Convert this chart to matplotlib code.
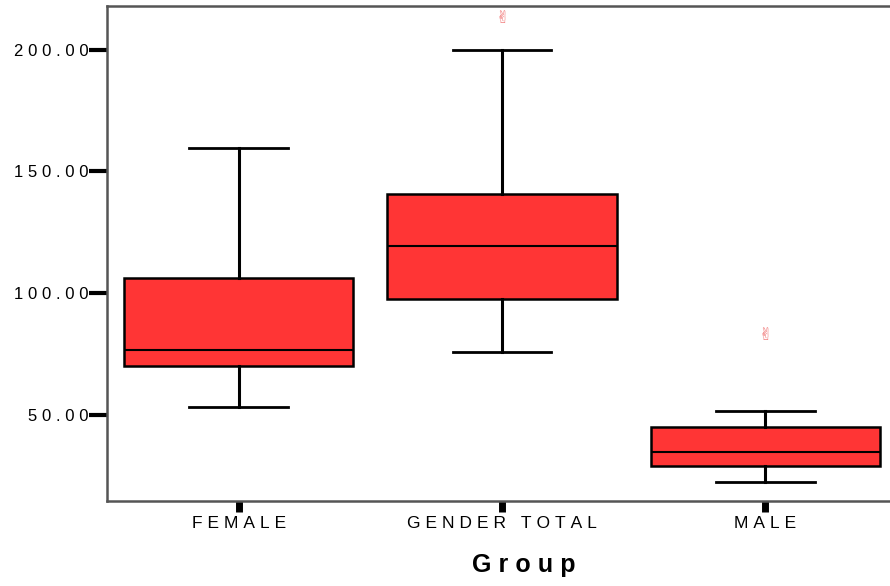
import matplotlib.pyplot as plt

# box statistics
groups = ["FEMALE", "GENDER TOTAL", "MALE"]
whislo = [53.3, 75.9, 22.4]
q1 = [70.1, 97.7, 29.0]
med = [76.7, 119.4, 34.8]
q3 = [106.3, 140.8, 45.0]
whishi = [159.5, 200.0, 51.6]
outliers = [[], [213.2], [82.9]]

yticks = [50, 100, 150, 200]

plt.rcParams["font.family"] = ["Liberation Sans", "DejaVu Sans"]


def spaced(s, gap="\u2009\u200a"):
    # the original output has very loose letter spacing
    return gap.join(s)


fig = plt.figure(figsize=(8.9, 5.86), dpi=100)
# right edge of the axes runs past the figure like in the original
ax = fig.add_axes([107 / 890, 1 - 501 / 586, 790 / 890, 495 / 586])

stats = []
for i, g in enumerate(groups):
    stats.append({"label": g, "whislo": whislo[i], "q1": q1[i], "med": med[i],
                  "q3": q3[i], "whishi": whishi[i], "fliers": []})

ax.bxp(stats, positions=[1, 2, 3], widths=0.87, patch_artist=True,
       showfliers=False,
       boxprops=dict(facecolor="#ff3535", edgecolor="black", linewidth=1.8),
       medianprops=dict(color="black", linewidth=1.5),
       whiskerprops=dict(color="black", linewidth=2.2),
       capprops=dict(color="black", linewidth=2.0),
       capwidths=0.375)

# outliers drawn as the little SPSS glyph
for i, vals in enumerate(outliers):
    for v in vals:
        ax.text(i + 1, v, "\u270c", color="#f07070", fontsize=12,
                ha="center", va="center", family=["DejaVu Sans"])

ax.set_xlim(0.5, 3.5)
ax.set_ylim(14.6, 218)
ax.set_yticks(yticks)
ax.set_yticklabels([spaced(f"{t:.2f}") for t in yticks], fontsize=12)
ax.set_xticks([1, 2, 3])
ax.set_xticklabels([spaced(g) for g in groups], fontsize=12.5)

for s in ["left", "bottom", "top"]:
    ax.spines[s].set_color("#555555")
    ax.spines[s].set_linewidth(1.8)
ax.spines["right"].set_visible(False)

ax.tick_params(axis="y", length=13, width=3, color="black", pad=0)
ax.tick_params(axis="x", length=8, width=5, color="black", pad=3)

ax.set_xlabel(spaced("Group"), fontsize=18, fontweight="bold")
ax.xaxis.set_label_coords((524 - 107) / 790, -0.105)
ax.xaxis.label.set_verticalalignment("top")

fig.savefig("out.png", dpi=100)
